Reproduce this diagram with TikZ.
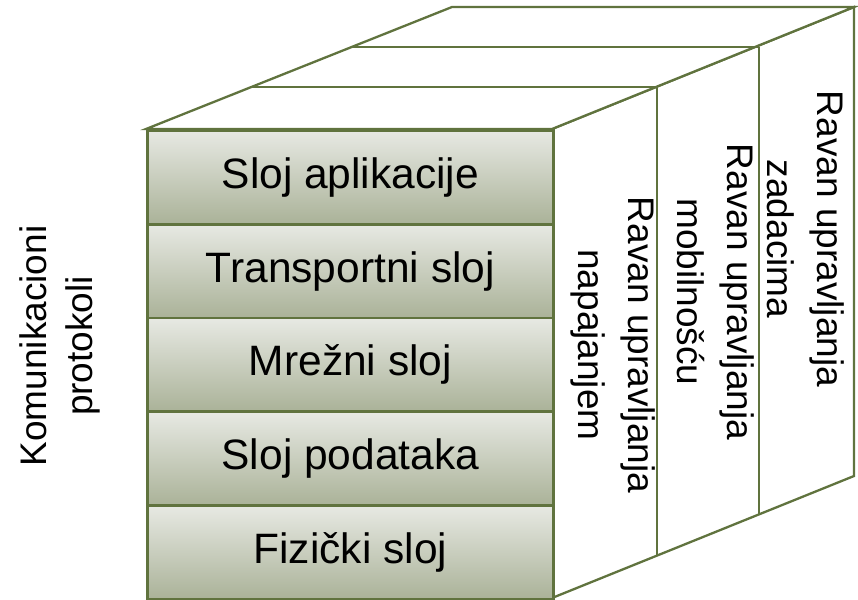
\documentclass[tikz,border=0pt]{standalone}
\usepackage{fontspec}
\setmainfont{Liberation Sans}
\begin{document}
\definecolor{edge}{RGB}{96,115,62}
\definecolor{layertop}{RGB}{231,233,227}
\definecolor{layerbot}{RGB}{170,178,152}
\begin{tikzpicture}[x=1pt,y=-1pt,
  face/.style={draw=edge, line width=2.3pt, fill=white, line join=miter},
  divider/.style={draw=edge, line width=2pt},
  layerbox/.style={draw=edge, line width=2.8pt, top color=layertop, bottom color=layerbot,
    minimum width=406pt, minimum height=93.8pt, inner sep=0pt, anchor=north west,
    font=\fontsize{42.5}{50}\selectfont},
  planelabel/.style={rotate=-90, align=center, inner sep=0pt,
    font=\fontsize{37}{50}\selectfont},
  sidelabel/.style={rotate=90, align=center, inner sep=0pt,
    font=\fontsize{37}{46}\selectfont}]
\useasboundingbox (0,0) rectangle (858,599);

% corners of the box
\coordinate (ftl) at (146,129);
\coordinate (ftr) at (552,129);
\coordinate (fbr) at (552,598);
\coordinate (btl) at (452,7);
\coordinate (btr) at (854,7);
\coordinate (bbr) at (854,476);
% slab boundaries along the depth
\coordinate (aL) at (251,87);  \coordinate (aR) at (657,87);  \coordinate (aB) at (657,556);
\coordinate (bL) at (352,47);  \coordinate (bR) at (759,47);  \coordinate (bB) at (759,515);

% side face with the three planes
\path[face] (ftr) -- (btr) -- (bbr) -- (fbr) -- cycle;
\draw[divider] (aR) -- (aB);
\draw[divider] (bR) -- (bB);

% top face
\path[face] (ftl) -- (btl) -- (btr) -- (ftr) -- cycle;
\draw[divider] (aL) -- (aR);
\draw[divider] (bL) -- (bR);

% protocol layers on the front face
\node[layerbox] (app)  at (146,129.0) {Sloj aplikacije};
\node[layerbox] (tran) at (146,222.8) {Transportni sloj};
\node[layerbox] (net)  at (146,316.6) {Mrežni sloj};
\node[layerbox] (data) at (146,410.4) {Sloj podataka};
\node[layerbox] (phy)  at (146,504.2) {Fizički sloj};

% management planes
\node[planelabel] (power) at (613,345) {Ravan upravljanja\\napajanjem};
\node[planelabel] (mob)   at (716,292) {Ravan upravljanja\\mobilnošću};
\node[planelabel] (task)  at (806,239) {Ravan upravljanja\\zadacima};

% stack label
\node[sidelabel] (stack) at (60,346) {Komunikacioni\\protokoli};
\end{tikzpicture}
\end{document}
